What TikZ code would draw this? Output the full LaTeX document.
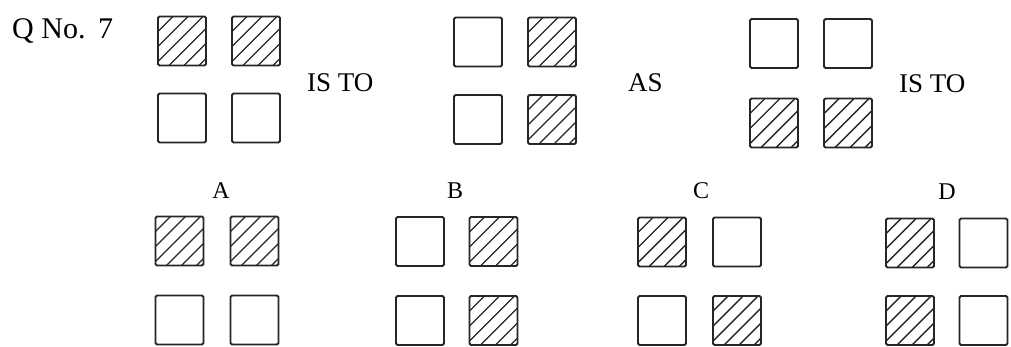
\documentclass[tikz,border=0pt]{standalone}
\usepackage{fontspec}
\setmainfont{Liberation Serif}
\usetikzlibrary{calc}
\tikzset{
  sq/.style={draw=black!85, line width=1.9pt, rounded corners=1.5pt, minimum width=48pt, minimum height=49pt, inner sep=0pt, fill=white},
  hsq/.style={sq, path picture={
      \foreach \k in {-5,...,4}
        \draw[black!85, line width=1.4pt]
          ($(path picture bounding box.south west)+(\k*15pt+11pt,0)$) -- ++(70pt,70pt);
    }},
  bigtxt/.style={font=\fontsize{30}{34}\selectfont, inner sep=0pt, anchor=base west},
  midtxt/.style={font=\fontsize{27}{31}\selectfont, inner sep=0pt, anchor=base west},
  lbl/.style={font=\fontsize{24}{28}\selectfont, inner sep=0pt, anchor=base},
}
\begin{document}
\begin{tikzpicture}[x=1pt,y=1pt]
\useasboundingbox (0,0) rectangle (1011,-347);
% question
\node[bigtxt] (q) at (12,-39) {Q No.\ \,7};
% group 1
\node[hsq] (g1a) at (182,-41) {};
\node[hsq] (g1b) at (256,-41) {};
\node[sq]  (g1c) at (182,-118) {};
\node[sq]  (g1d) at (256,-118) {};
\node[midtxt] (t1) at (307,-92) {IS TO};
% group 2
\node[sq]  (g2a) at (478,-42) {};
\node[hsq] (g2b) at (552,-42) {};
\node[sq]  (g2c) at (478,-119.5) {};
\node[hsq] (g2d) at (552,-119.5) {};
\node[midtxt] (t2) at (628,-92) {AS};
% group 3
\node[sq]  (g3a) at (774,-43.5) {};
\node[sq]  (g3b) at (848,-43.5) {};
\node[hsq] (g3c) at (774,-123) {};
\node[hsq] (g3d) at (848,-123) {};
\node[midtxt] (t3) at (899,-93) {IS TO};
% option A
\node[lbl] (la) at (221,-199) {A};
\node[hsq] (aa) at (179.5,-241) {};
\node[hsq] (ab) at (254.5,-241) {};
\node[sq]  (ac) at (179.5,-320) {};
\node[sq]  (ad) at (254.5,-320) {};
% option B
\node[lbl] (lb) at (455,-199) {B};
\node[sq]  (ba) at (420,-241.5) {};
\node[hsq] (bb) at (493.5,-241.5) {};
\node[sq]  (bc) at (420,-320.5) {};
\node[hsq] (bd) at (493.5,-320.5) {};
% option C
\node[lbl] (lc) at (701,-199) {C};
\node[hsq] (ca) at (662,-242) {};
\node[sq]  (cb) at (737,-242) {};
\node[sq]  (cc) at (662,-320.5) {};
\node[hsq] (cd) at (737,-320.5) {};
% option D
\node[lbl] (ld) at (947,-200) {D};
\node[hsq] (da) at (910,-243) {};
\node[sq]  (db) at (983.5,-243) {};
\node[hsq] (dc) at (910,-320.5) {};
\node[sq]  (dd) at (983.5,-320.5) {};
\end{tikzpicture}
\end{document}
